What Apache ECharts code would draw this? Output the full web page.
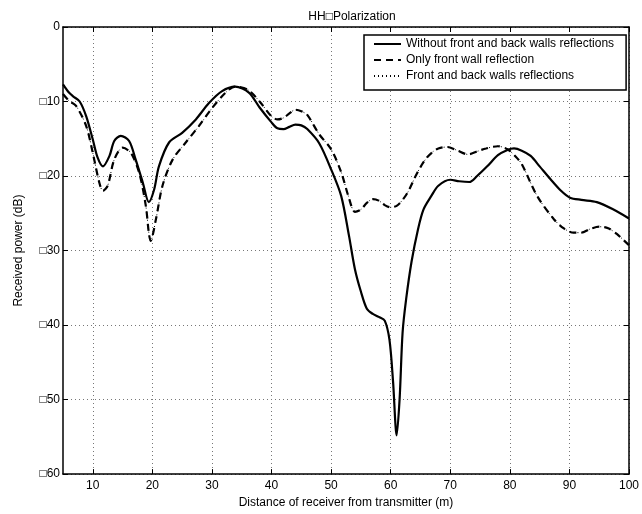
<!DOCTYPE html>
<html>
<head>
<meta charset="utf-8">
<script src="https://cdn.jsdelivr.net/npm/echarts@6/dist/echarts.min.js"></script>
<style>html,body{margin:0;padding:0;background:#fff}#c{width:642px;height:514px}</style>
</head>
<body>
<div id="c"></div>
<script>
const xTicks = [10, 20, 30, 40, 50, 60, 70, 80, 90, 100];
const seriesNames = ['Without front and back walls reflections', 'Only front wall reflection', 'Front and back walls reflections'];

const xSolid = [5, 6, 6.7, 7.8, 8.9, 10, 10.8, 11.7, 12.8, 13.6, 14.7, 16.1, 17.2, 18.4, 19.4, 20.3, 21.1, 22.8, 25, 27.3, 29.5, 31.7, 33.9, 36.2, 38, 40, 41, 42, 43, 44, 45, 46, 48, 50, 51.7, 53, 54, 55, 56, 57, 58, 59, 59.8, 60.4, 61, 61.5, 62, 62.6, 63.5, 64.6, 65.5, 66.8, 68, 70, 71.5, 73.2, 74.5, 76.2, 78, 79.6, 80.7, 82, 83.5, 85, 86.8, 88.5, 90.1, 92, 94.6, 97.4, 100];
const ySolid = [-7.7, -8.8, -9.3, -10.0, -12.0, -15.1, -17.5, -18.7, -17.3, -15.3, -14.6, -15.3, -17.8, -20.9, -23.5, -21.8, -18.7, -15.5, -14.2, -12.4, -10.2, -8.6, -8.0, -8.8, -10.8, -12.8, -13.6, -13.7, -13.4, -13.1, -13.2, -13.7, -15.6, -19.1, -22.7, -28.0, -32.5, -35.5, -37.8, -38.5, -38.9, -39.4, -42.0, -47.6, -54.8, -49.9, -41.0, -36.5, -31.5, -27.1, -24.5, -22.7, -21.3, -20.5, -20.7, -20.8, -20.0, -18.7, -17.2, -16.5, -16.3, -16.6, -17.3, -18.7, -20.4, -21.9, -22.9, -23.2, -23.5, -24.5, -25.7];

const xDashed = [5, 6, 7.2, 8.9, 10, 11.1, 11.7, 12.5, 13.6, 15, 16.4, 17.8, 18.9, 19.4, 19.7, 20.6, 21.7, 23.4, 25.6, 27.8, 30, 32.3, 33.9, 36, 38, 40, 41, 42, 43, 44, 45, 46, 48, 50, 51.7, 52.9, 54, 55, 56, 57, 58, 59, 60, 61, 62, 63, 64, 65, 66, 67, 68, 69.5, 71, 73, 74.5, 76, 78, 79.6, 81, 82, 84.6, 87.4, 89, 90.7, 92, 93.5, 95, 96.5, 98, 100];
const yDashed = [-9.0, -9.9, -10.6, -13.3, -16.9, -20.9, -22.0, -21.3, -17.8, -16.2, -16.9, -19.6, -24.0, -27.6, -28.7, -25.8, -21.3, -17.8, -15.5, -13.3, -10.9, -8.8, -8.0, -8.4, -10.0, -12.0, -12.4, -12.2, -11.6, -11.1, -11.3, -11.8, -14.4, -16.4, -19.5, -22.7, -24.8, -24.5, -23.6, -23.1, -23.3, -23.9, -24.2, -24.0, -23.2, -22.0, -20.3, -18.8, -17.6, -16.8, -16.3, -16.1, -16.5, -17.1, -16.7, -16.3, -16.0, -16.4, -17.4, -18.4, -22.7, -25.8, -27.0, -27.6, -27.6, -27.1, -26.8, -27.0, -27.8, -29.3];

const xDotted = xDashed.slice();
const yDotted = [-9.0, -9.9, -10.6, -13.3, -16.9, -20.9, -22.0, -21.3, -17.8, -16.2, -16.9, -19.6, -24.0, -27.6, -28.7, -25.8, -21.3, -17.8, -15.5, -13.3, -10.9, -8.8, -8.0, -8.4, -10.0, -12.0, -12.4, -12.2, -11.6, -11.1, -11.3, -11.8, -14.4, -16.4, -19.5, -22.7, -24.8, -24.5, -23.6, -23.1, -23.3, -23.9, -24.2, -24.0, -23.2, -22.0, -20.3, -18.8, -17.6, -16.8, -16.3, -16.1, -16.5, -17.1, -16.7, -16.3, -16.0, -16.4, -17.4, -18.4, -22.7, -25.8, -27.0, -27.6, -27.6, -27.1, -26.8, -27.0, -27.8, -29.3];

const zip = (xs, ys) => xs.map((x, i) => [x, ys[i]]);
const FONT = "'Liberation Sans', Arial, Helvetica, sans-serif";
const fmtY = v => v < 0 ? '\u25A1' + (-v) : String(v);

const chart = echarts.init(document.getElementById('c'), null, { renderer: 'canvas' });
const axisLineStyle = { color: '#000', width: 1.5 };
const gridLine = { show: true, lineStyle: { color: '#777', width: 1, type: [1, 3] } };

chart.setOption({
  animation: false,
  backgroundColor: '#fff',
  title: {
    text: 'HH\u25A1Polarization',
    left: 347, top: 6, textAlign: 'center',
    textStyle: { fontFamily: FONT, fontSize: 12, fontWeight: 'normal', color: '#000' }
  },
  grid: { left: 63, right: 10, top: 27, bottom: 39, containLabel: false },
  legend: {
    orient: 'vertical', left: 364, top: 35,
    padding: [3, 12, 8, 9], itemGap: 4, itemWidth: 27, itemHeight: 12,
    itemStyle: { color: 'rgba(0,0,0,0)', borderWidth: 0, borderColor: 'rgba(0,0,0,0)' },
    backgroundColor: '#fff', borderColor: '#000', borderWidth: 1.5, borderRadius: 0,
    textStyle: { fontFamily: FONT, fontSize: 12, color: '#000' },
    data: seriesNames
  },
  xAxis: [{
    type: 'value', min: 5, max: 100, position: 'bottom',
    name: 'Distance of receiver from transmitter (m)', nameLocation: 'middle', nameGap: 22,
    nameTextStyle: { fontFamily: FONT, fontSize: 12, color: '#000' },
    axisLine: { show: true, onZero: false, lineStyle: axisLineStyle },
    axisTick: { show: true, inside: true, length: 5, customValues: xTicks, lineStyle: { color: '#000' } },
    axisLabel: { customValues: xTicks, margin: 6, fontFamily: FONT, fontSize: 12, color: '#000' },
    splitLine: gridLine
  }, {
    type: 'value', min: 5, max: 100, position: 'top',
    axisLine: { show: true, onZero: false, lineStyle: axisLineStyle },
    axisTick: { show: true, inside: true, length: 5, customValues: xTicks, lineStyle: { color: '#000' } },
    axisLabel: { show: false, customValues: xTicks },
    splitLine: { show: false }
  }],
  yAxis: [{
    type: 'value', min: -60, max: 0, interval: 10, position: 'left',
    name: 'Received power (dB)', nameLocation: 'middle', nameGap: 38,
    nameTextStyle: { fontFamily: FONT, fontSize: 12, color: '#000' },
    axisLine: { show: true, onZero: false, lineStyle: axisLineStyle },
    axisTick: { show: true, inside: true, length: 5, lineStyle: { color: '#000' } },
    axisLabel: { margin: 3, formatter: fmtY, fontFamily: FONT, fontSize: 12, color: '#000' },
    splitLine: gridLine
  }, {
    type: 'value', min: -60, max: 0, interval: 10, position: 'right',
    axisLine: { show: true, onZero: false, lineStyle: axisLineStyle },
    axisTick: { show: true, inside: true, length: 5, lineStyle: { color: '#000' } },
    axisLabel: { show: false },
    splitLine: { show: false }
  }],
  series: [{
    name: seriesNames[0], type: 'line', xAxisIndex: 0, yAxisIndex: 0,
    data: zip(xSolid, ySolid), symbol: 'none', smooth: 0.3,
    lineStyle: { color: '#000', width: 2.2, type: 'solid' }, itemStyle: { color: '#000' }, z: 3
  }, {
    name: seriesNames[1], type: 'line', xAxisIndex: 0, yAxisIndex: 0,
    data: zip(xDashed, yDashed), symbol: 'none', smooth: 0.3,
    lineStyle: { color: '#000', width: 2.2, type: [7, 5] }, itemStyle: { color: '#000' }, z: 2
  }, {
    name: seriesNames[2], type: 'line', xAxisIndex: 0, yAxisIndex: 0,
    data: zip(xDotted, yDotted), symbol: 'none', smooth: 0.3,
    lineStyle: { color: '#000', width: 1, type: [1, 3] }, itemStyle: { color: '#000' }, z: 2
  }]
});
</script>
</body>
</html>
